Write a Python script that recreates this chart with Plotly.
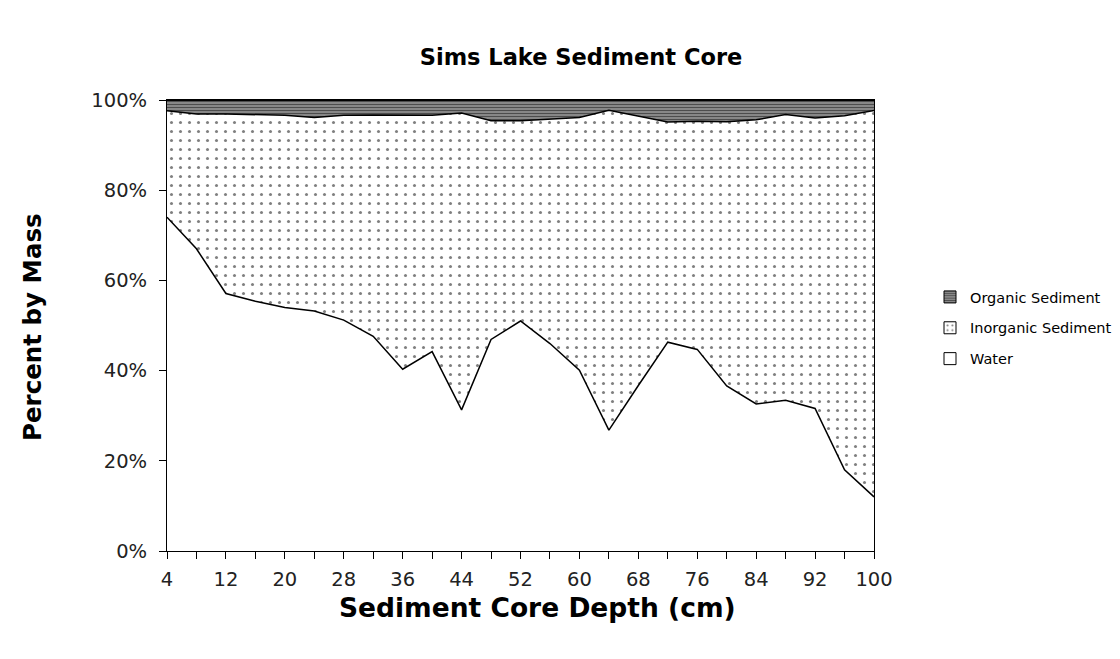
import plotly.graph_objects as go

depth = [4, 8, 12, 16, 20, 24, 28, 32, 36, 40, 44, 48, 52, 56, 60, 64, 68, 72, 76, 80, 84, 88, 92, 96, 100]
water = [74.0, 67.0, 57.1, 55.4, 54.0, 53.2, 51.2, 47.6, 40.3, 44.2, 31.3, 46.9, 51.0, 46.0, 40.1, 26.8, 36.7, 46.3, 44.7, 36.6, 32.6, 33.4, 31.6, 18.0, 12.0]
water_plus_inorganic = [97.6, 96.9, 96.9, 96.7, 96.6, 96.1, 96.6, 96.7, 96.6, 96.6, 97.1, 95.4, 95.4, 95.7, 96.1, 97.7, 96.4, 95.1, 95.3, 95.2, 95.6, 96.8, 96.0, 96.5, 97.7]
inorganic = [round(t - w, 1) for t, w in zip(water_plus_inorganic, water)]
organic = [round(100 - t, 1) for t in water_plus_inorganic]

tick_labels = [str(d) if i % 2 == 0 else "" for i, d in enumerate(depth)]
y_ticks = [0, 20, 40, 60, 80, 100]
y_tick_labels = ["0%", "20%", "40%", "60%", "80%", "100%"]

FONT = "DejaVu Sans, Liberation Sans, sans-serif"

dot_pattern = dict(shape=".", fgcolor="black", bgcolor="white", size=9, solidity=0.09)
stripe_pattern = dict(shape="-", fgcolor="black", bgcolor="#9a9a9a", size=3, solidity=0.5)

fig = go.Figure()
fig.add_trace(go.Scatter(
    x=depth, y=water, name="Water", stackgroup="one", mode="lines",
    line=dict(color="black", width=1.5), fillcolor="white", showlegend=False,
))
fig.add_trace(go.Scatter(
    x=depth, y=inorganic, name="Inorganic Sediment", stackgroup="one", mode="lines",
    line=dict(color="black", width=1.5), fillcolor="white",
    fillpattern=dot_pattern, showlegend=False,
))
fig.add_trace(go.Scatter(
    x=depth, y=organic, name="Organic Sediment", stackgroup="one", mode="lines",
    line=dict(color="black", width=2), fillcolor="white",
    fillpattern=stripe_pattern, showlegend=False,
))

# legend swatches (square boxes like the reference), top to bottom
legend_items = [
    ("Organic Sediment", dict(color="white", pattern=stripe_pattern)),
    ("Inorganic Sediment", dict(color="white", pattern=dict(dot_pattern, size=6, solidity=0.15))),
    ("Water", dict(color="white")),
]
for name, mk in legend_items:
    fig.add_trace(go.Bar(
        x=[None], y=[None], name=name, legendgroup=name,
        marker=dict(line=dict(color="black", width=1), **mk),
    ))

W, H = 1104, 643
fig.update_layout(
    width=W, height=H,
    margin=dict(l=159, r=238, t=92, b=100, autoexpand=False),
    paper_bgcolor="white", plot_bgcolor="white",
    title=dict(text="<b>Sims Lake Sediment Core</b>", x=573 / W, xanchor="center",
               y=1 - 49 / H, yanchor="middle", font=dict(family=FONT, size=22.5, color="black")),
    font=dict(family=FONT, size=19, color="black"),
    showlegend=True,
    legend=dict(xref="container", yref="container", x=922 / W, xanchor="left",
                y=1 - 320 / H, yanchor="middle",
                traceorder="grouped", font=dict(family=FONT, size=14.5, color="black"),
                itemwidth=30, tracegroupgap=9, bgcolor="rgba(0,0,0,0)"),
    xaxis=dict(
        range=[4, 100], tickmode="array", tickvals=depth, ticktext=tick_labels,
        ticks="outside", ticklen=7, tickcolor="black", tickwidth=1,
        showline=True, linecolor="black", linewidth=1, mirror=True,
        showgrid=False, zeroline=False, ticklabelstandoff=4,
        tickfont=dict(family=FONT, size=19.5, color="#222"),
    ),
    yaxis=dict(
        range=[0, 100], tickmode="array", tickvals=y_ticks, ticktext=y_tick_labels,
        ticks="outside", ticklen=7, tickcolor="black", tickwidth=1,
        showline=True, linecolor="black", linewidth=1, mirror=True,
        showgrid=False, zeroline=False, ticklabelstandoff=8,
        tickfont=dict(family=FONT, size=19.5, color="#222"),
    ),
    annotations=[
        dict(text="<b>Sediment Core Depth (cm)</b>", xref="paper", yref="paper",
             x=(529 - 159) / 707, y=-(599 - 543) / 451, xanchor="center", yanchor="middle",
             showarrow=False, font=dict(family=FONT, size=26.5, color="black")),
        dict(text="<b>Percent by Mass</b>", xref="paper", yref="paper",
             x=-(159 - 24) / 707, y=(543 - 319) / 451, xanchor="center", yanchor="middle",
             textangle=-90, showarrow=False, font=dict(family=FONT, size=24.5, color="black")),
    ],
)

fig.write_html("out.html")
